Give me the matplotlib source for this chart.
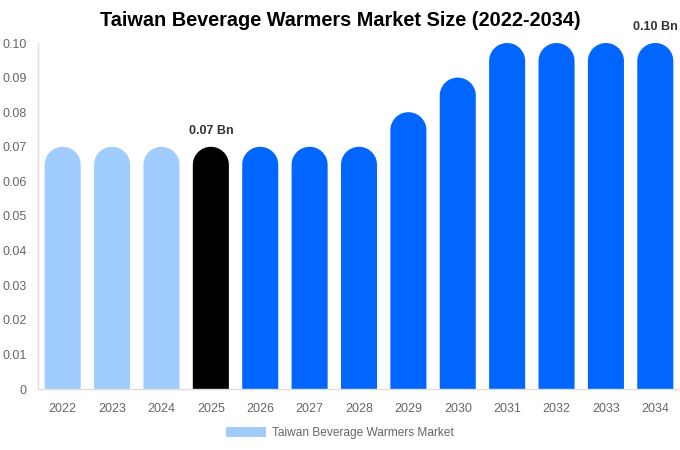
import matplotlib
matplotlib.use("Agg")
import numpy as np
import matplotlib.pyplot as plt
from matplotlib.patches import Polygon, Patch

plt.rcParams['font.family'] = ['Liberation Sans', 'DejaVu Sans']

years = ["2022", "2023", "2024", "2025", "2026", "2027", "2028",
         "2029", "2030", "2031", "2032", "2033", "2034"]
values = [0.07, 0.07, 0.07, 0.07, 0.07, 0.07, 0.07, 0.08, 0.09, 0.10, 0.10, 0.10, 0.10]
colors = ["#a0cdfd"] * 3 + ["#000000"] + ["#0066ff"] * 9
labels = {3: "0.07 Bn", 12: "0.10 Bn"}
yticks = [0, 0.01, 0.02, 0.03, 0.04, 0.05, 0.06, 0.07, 0.08, 0.09, 0.10]
title = "Taiwan Beverage Warmers Market Size (2022-2034)"
legend_label = "Taiwan Beverage Warmers Market"

W, H = 680, 450
fig = plt.figure(figsize=(W / 100, H / 100), dpi=100)
ax_l, ax_r, ax_t, ax_b = 38, 680, 43, 389
ax = fig.add_axes([ax_l / W, 1 - ax_b / H, (ax_r - ax_l) / W, (ax_b - ax_t) / H])
n = len(years)
ax.set_xlim(-0.5, n - 0.5)
ax.set_ylim(0, 0.10)

bw = 0.73
px_per_x = (ax_r - ax_l) / n
px_per_y = (ax_b - ax_t) / 0.10
r_px = bw * px_per_x / 2
ry = r_px / px_per_y
theta = np.linspace(0, np.pi, 60)
for i, (v, c) in enumerate(zip(values, colors)):
    arc_x = i + (bw / 2) * np.cos(theta)
    arc_y = (v - ry) + ry * np.sin(theta)
    pts = [(i - bw / 2, 0), (i + bw / 2, 0)] + list(zip(arc_x, arc_y))
    ax.add_patch(Polygon(pts, closed=True, facecolor=c, edgecolor='none'))
    if i in labels:
        ax.annotate(labels[i], (i, v), xytext=(0, 7), textcoords='offset points',
                    ha='center', va='bottom', fontsize=9, fontweight='bold', color='#333333',
                    annotation_clip=False)

ax.set_xticks(range(n))
ax.set_xticklabels(years)
ax.set_yticks(yticks)
ax.set_yticklabels(["0"] + [f"{t:.2f}" for t in yticks[1:]])
ax.tick_params(axis='both', length=0, labelsize=9, colors='#666666')
ax.tick_params(axis='x', pad=10)
ax.tick_params(axis='y', pad=8)
for s in ['top', 'right']:
    ax.spines[s].set_visible(False)
for s in ['left', 'bottom']:
    ax.spines[s].set_color('#dddddd')
    ax.spines[s].set_linewidth(1)

fig.text(340 / W, 1 - 21 / H, title, ha='center', va='center', fontsize=14.3, fontweight='bold', color='#000000')

leg = fig.legend(handles=[Patch(facecolor=colors[0], edgecolor='none', label=legend_label)],
                 loc='center', bbox_to_anchor=(340 / W, 1 - 433 / H), frameon=False,
                 fontsize=8.6, handlelength=3.35, handleheight=1.0, handletextpad=0.5)
for t in leg.get_texts():
    t.set_color('#666666')

fig.savefig("out.png", dpi=100)
